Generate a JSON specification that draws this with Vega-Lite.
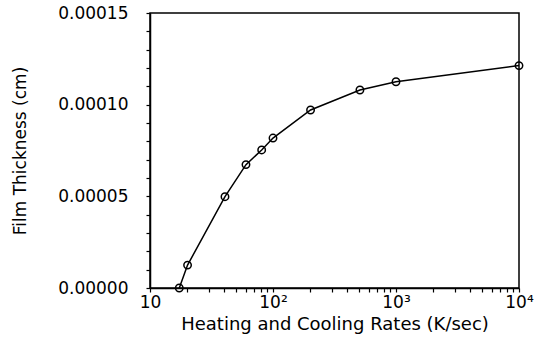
{
  "$schema": "https://vega.github.io/schema/vega-lite/v6.json",
  "autosize": {"type": "none"},
  "width": 369,
  "height": 275,
  "padding": {"left": 150, "top": 13, "right": 20, "bottom": 55},
  "background": "white",
  "config": {
    "view": {"stroke": "black", "strokeWidth": 1.5},
    "axis": {
      "domainColor": "black", "domainWidth": 1.5, "tickColor": "black", "tickWidth": 1.2,
      "labelFont": "DejaVu Sans", "labelColor": "black", "labelFontSize": 17, "labelFontWeight": "normal",
      "titleFont": "DejaVu Sans", "titleColor": "black", "titleFontSize": 18, "titleFontWeight": "normal",
      "grid": false
    }
  },
  "data": {
    "values": [
      {"rate": 17.3, "thickness": 0.0},
      {"rate": 20.2, "thickness": 0.0000125},
      {"rate": 40.7, "thickness": 0.0000498},
      {"rate": 60.3, "thickness": 0.0000673},
      {"rate": 80.9, "thickness": 0.0000753},
      {"rate": 100, "thickness": 0.0000818},
      {"rate": 202, "thickness": 0.0000971},
      {"rate": 509, "thickness": 0.000108},
      {"rate": 1000, "thickness": 0.0001125},
      {"rate": 10000, "thickness": 0.0001213}
    ]
  },
  "encoding": {
    "x": {
      "field": "rate", "type": "quantitative",
      "scale": {"type": "log", "domain": [10, 10000], "nice": false},
      "axis": {
        "title": "Heating and Cooling Rates (K/sec)",
        "values": [10,20,30,40,50,60,70,80,90,100,200,300,400,500,600,700,800,900,1000,2000,3000,4000,5000,6000,7000,8000,9000,10000],
        "labelExpr": "datum.value == 10 ? '10' : datum.value == 100 ? '10²' : datum.value == 1000 ? '10³' : datum.value == 10000 ? '10⁴' : ''",
        "tickSize": 4,
        "labelPadding": 2,
        "titlePadding": 5,
        "labelFlush": false,
        "labelOverlap": false
      }
    },
    "y": {
      "field": "thickness", "type": "quantitative",
      "scale": {"domain": [0, 0.00015], "nice": false},
      "axis": {
        "title": "Film Thickness (cm)",
        "titleFontSize": 17,
        "values": [0, 0.00001, 0.00002, 0.00003, 0.00004, 0.00005, 0.00006, 0.00007, 0.00008, 0.00009, 0.0001, 0.00011, 0.00012, 0.00013, 0.00014, 0.00015],
        "labelExpr": "abs(datum.value*100000 - round(datum.value*20000)*5) < 0.01 ? format(datum.value, '.5f') : ''",
        "tickSize": 4,
        "labelPadding": 18,
        "titlePadding": 28,
        "labelOverlap": false
      }
    }
  },
  "layer": [
    {"mark": {"type": "line", "color": "black", "strokeWidth": 1.5}},
    {"mark": {"type": "point", "shape": "circle", "filled": false, "color": "black", "strokeWidth": 1.5, "size": 55, "opacity": 1}}
  ]
}
